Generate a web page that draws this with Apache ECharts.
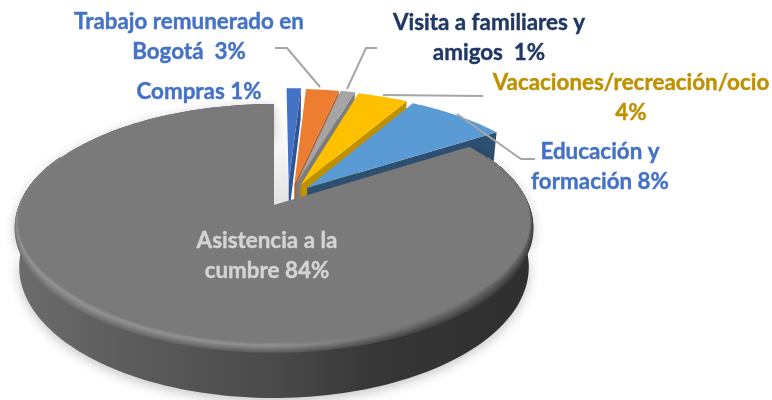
<!DOCTYPE html>
<html><head><meta charset="utf-8">
<script src="https://cdn.jsdelivr.net/npm/echarts@6/dist/echarts.min.js"></script>
<style>html,body{margin:0;padding:0;background:#fff}#c{width:772px;height:400px}</style>
</head><body><div id="c"></div>
<script>
// Data (share of trips, %)
const categories = ['Compras','Trabajo remunerado en Bogotá','Visita a familiares y amigos','Vacaciones/recreación/ocio','Educación y formación','Asistencia a la cumbre'];
const shares = [1.1, 2.5, 1.1, 3.8, 7.5, 84];
const labelLines = [['Compras 1%'],['Trabajo remunerado en','Bogotá  3%'],['Visita a familiares y','amigos  1%'],['Vacaciones/recreación/ocio','4%'],['Educación y','formación 8%'],['Asistencia a la','cumbre 84%']];

// Styling
const topColors = ['#4472C4','#ED7D31','#A5A5A5','#FFC000','#5B9BD5','#7A7A7A'];
const wallColors = ['#2F5597','#B65F25','#7C7C7C','#BF9000','#2D4F70','#4A4A4A'];
const labelColors = ['#4472C4','#4472C4','#1F3864','#BF9000','#4472C4','#D4D4D4'];
const labelCenters = [[199,92],[189,22],[489,23],[631,83],[600,152],[267,241]];
const explodeDirDeg = [16,23,25,31,41,0];
const explodeDist = [0.2,0.2,0.205,0.2,0.197,0];
const leaders = [
  [[275,48],[287,48],[320,87]],
  [[377,48],[366,48],[347,89]],
  [[383,95],[483,96]],
  [[457,114],[521,159],[535,159]]
];
// Perspective view of the disc
const CX=275, CY=205, K=0.1855, BY=119.7, BX=256.5, DEPTH=37.5, SHRINK=0.985;
const DISC_CX=274, DISC_XSCALE=0.991, BEVEL=10;
const total = shares.reduce((a,b)=>a+b,0);
const topPt = (X,Y)=>{const w=1+K*Y; return [CX+BX*X/w, CY-BY*Y/w];};
const botPt = (X,Y)=>{const p=topPt(X,Y),w=1+K*Y; return [CX+(p[0]-CX)*SHRINK, p[1]+DEPTH/w];};
const discTop = (X,Y)=>{const p=topPt(X,Y); return [DISC_CX+(p[0]-CX)*DISC_XSCALE,p[1]];};
const discBot = (X,Y)=>{const p=discTop(X,Y),w=1+K*Y; return [DISC_CX+(p[0]-DISC_CX)*SHRINK,p[1]+DEPTH/w];};
const rad = d=>d*Math.PI/180;

function arc(fn,a0,a1,ox,oy){
  const n=Math.max(2,Math.ceil(Math.abs(a1-a0)/1.5)),out=[];
  for(let i=0;i<=n;i++){const a=rad(a0+(a1-a0)*i/n); out.push(fn(ox+Math.sin(a),oy+Math.cos(a)));}
  return out;
}
function poly(points,fill,extra){return {type:'polygon',shape:{points},style:Object.assign({fill},extra||{})};}
const hex=v=>{const h=Math.round(v).toString(16).padStart(2,'0');return '#'+h+h+h;};

// Shaded rim of the disc, drawn as thin rings from the edge inwards
function bevelRings(){
  const us=[0,0.5,0.8,1], edge=[0x72,0x5c,0x42,0x38], peak=[0x94,0x92,0x6c,0x5c], flat=0x7a, out=[], N=12;
  for(let n=0;n<=N;n++){
    const t=n/N;
    const stops=us.map((u,i)=>({offset:u,color:hex(t<0.7?edge[i]+(peak[i]-edge[i])*t/0.7:peak[i]+(flat-peak[i])*(t-0.7)/0.3)}));
    const fn=(X,Y)=>{
      const p=discTop(X,Y), amt=Math.min(1,Math.max(0,(0.3-Y)/1.0))*t*BEVEL;
      return [p[0]-X*amt*0.7,p[1]-amt];
    };
    out.push({type:'polyline',shape:{points:arc(fn,65,295,0,0)},
      style:{fill:null,lineWidth:1.6,stroke:{type:'linear',global:true,x:15,y:0,x2:532,y2:0,colorStops:stops}}});
  }
  return out;
}

function renderSlice(params,api){
  const i=api.value(0);
  let a0=0; for(let j=0;j<i;j++) a0+=shares[j]/total*360;
  const a1=a0+shares[i]/total*360;
  const children=[];
  if(i<5){
    const d=rad(explodeDirDeg[i]),e=explodeDist[i],ox=e*Math.sin(d),oy=e*Math.cos(d);
    const s=rad(a1),sx=Math.sin(s),sy=Math.cos(s);
    children.push(poly([topPt(ox,oy),topPt(ox+sx,oy+sy),botPt(ox+sx,oy+sy),botPt(ox,oy)],wallColors[i]));
    children.push(poly([topPt(ox,oy)].concat(arc(topPt,a0,a1,ox,oy)),topColors[i]));
  } else {
    children.push(poly([discTop(0,0),discTop(0,0.8),topPt(0.052,0.8),topPt(0.052,0)],
      {type:'linear',x:0,y:0,x2:0,y2:1,colorStops:[{offset:0,color:'#ffffff'},{offset:1,color:'#e2e2e2'}]}));
    const wall=arc(discTop,a0,360,0,0).concat(arc(discBot,360,a0,0,0));
    children.push(poly(wall,{type:'linear',x:0,y:0,x2:1,y2:0,colorStops:[
      {offset:0,color:'#6c6c6c'},{offset:0.25,color:'#5a5a5a'},{offset:0.5,color:'#4a4a4a'},{offset:0.7,color:'#363636'},{offset:1,color:'#2f2f2f'}]},
      {shadowBlur:12,shadowColor:'rgba(0,0,0,0.24)',shadowOffsetY:3}));
    children.push(poly([discTop(0,0)].concat(arc(discTop,a0,360,0,0)),topColors[i]));
    bevelRings().forEach(r=>children.push(r));
  }
  return {type:'group',children};
}

const chart=echarts.init(document.getElementById('c'),null,{renderer:'canvas'});
const graphic=[];
leaders.forEach(pts=>graphic.push({type:'polyline',z:20,shape:{points:pts},style:{fill:null,stroke:'#A6A6A6',lineWidth:2}}));
labelLines.forEach((lines,i)=>{
  lines.forEach((t,j)=>graphic.push({type:'text',z:30,x:labelCenters[i][0],y:labelCenters[i][1]+j*30,
    style:{text:t,fill:labelColors[i],stroke:labelColors[i],lineWidth:0.4,font:'700 22.4px Lato, "Open Sans", sans-serif',align:'center',verticalAlign:'middle'}}));
});
chart.setOption({
  animation:false,
  backgroundColor:'#ffffff',
  series:[{type:'custom',coordinateSystem:'none',renderItem:renderSlice,silent:true,
    encode:{value:[1]},
    data:shares.map((v,i)=>({name:categories[i],value:[i,v]}))}],
  graphic
});
</script></body></html>
